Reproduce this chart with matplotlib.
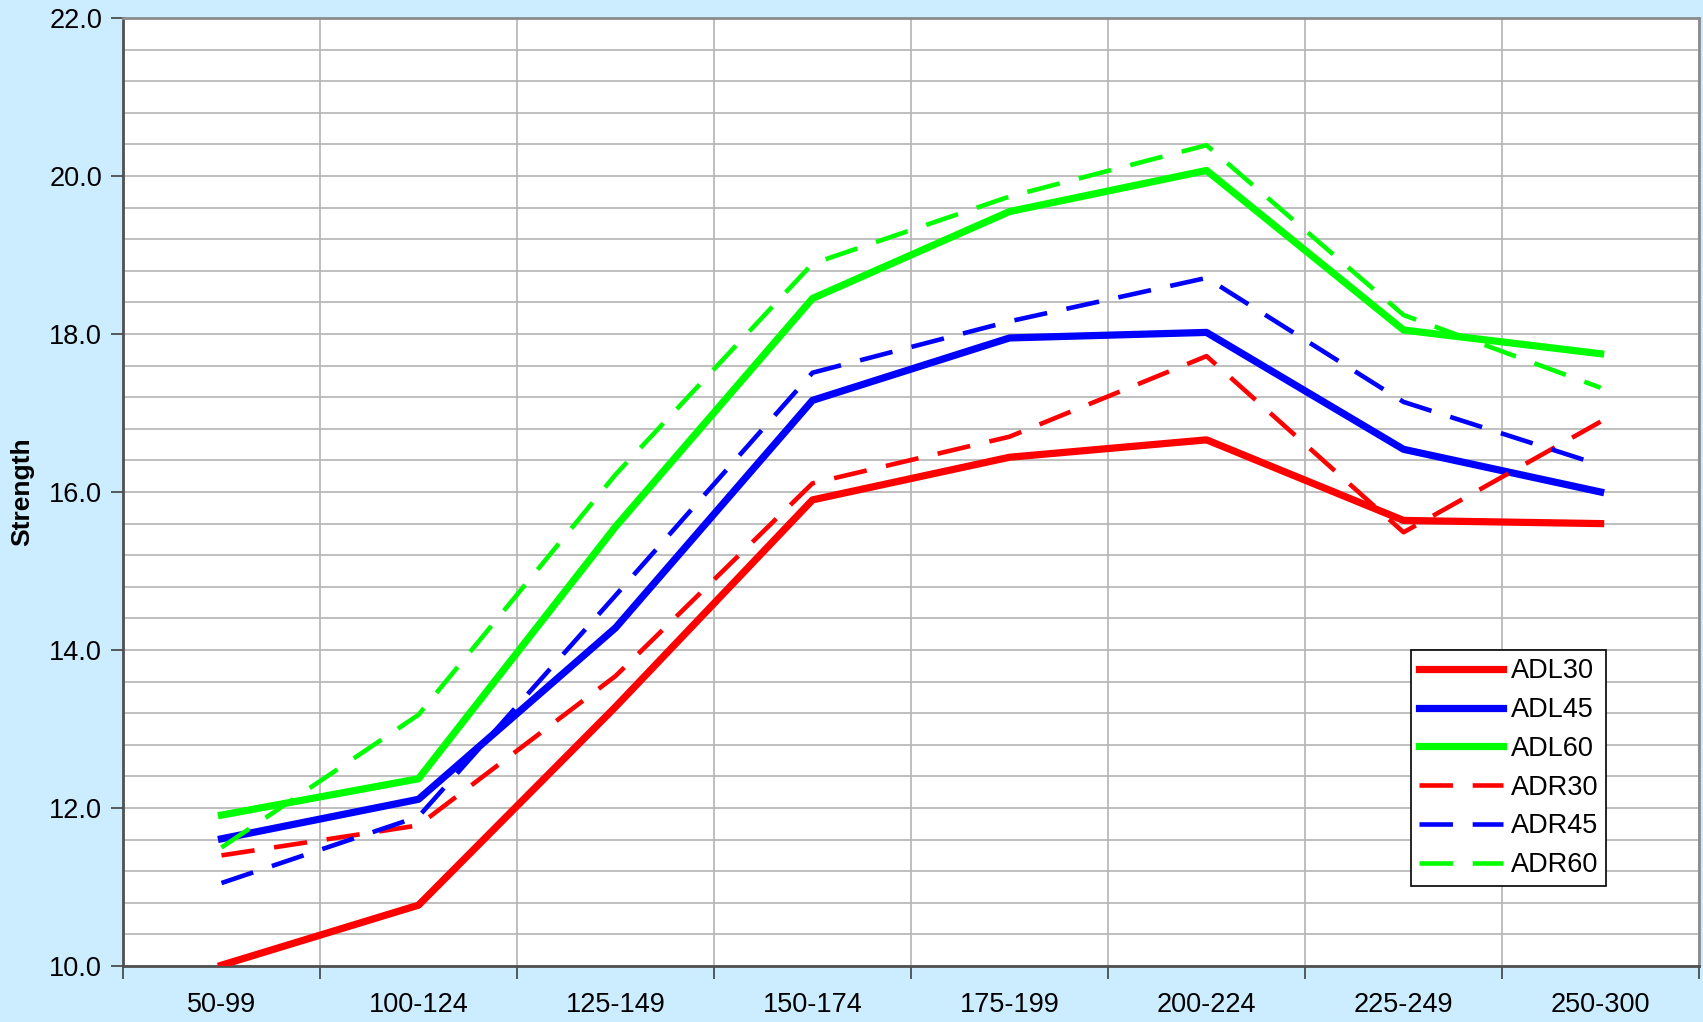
import matplotlib
matplotlib.use('Agg')
import matplotlib.pyplot as plt
from matplotlib.ticker import MultipleLocator, FormatStrFormatter, FixedLocator

# Data
categories = ['50-99', '100-124', '125-149', '150-174', '175-199', '200-224', '225-249', '250-300']
adl30 = [10.01, 10.77, 13.28, 15.90, 16.44, 16.66, 15.64, 15.60]
adl45 = [11.61, 12.11, 14.28, 17.16, 17.95, 18.02, 16.54, 16.00]
adl60 = [11.91, 12.37, 15.56, 18.45, 19.55, 20.07, 18.05, 17.75]
adr30 = [11.40, 11.78, 13.67, 16.11, 16.70, 17.72, 15.49, 16.89]
adr45 = [11.05, 11.89, 14.69, 17.51, 18.16, 18.71, 17.14, 16.34]
adr60 = [11.50, 13.18, 16.22, 18.89, 19.74, 20.39, 18.24, 17.32]

plt.rcParams['font.family'] = ['Liberation Sans', 'DejaVu Sans']

bg = '#CCECFF'
fig = plt.figure(figsize=(17.03, 10.22), dpi=100, facecolor=bg)
ax = fig.add_axes([0.0722, 0.0548, 0.9255, 0.9276])
ax.set_facecolor('white')

x = list(range(len(categories)))
solid_lw = 5.2
dash_lw = 3.3
dash = (0, (7.3, 4.3))

ax.plot(x, adl30, color='#FF0000', lw=solid_lw, label='ADL30', zorder=3)
ax.plot(x, adl45, color='#0000FF', lw=solid_lw, label='ADL45', zorder=3)
ax.plot(x, adl60, color='#00FF00', lw=solid_lw, label='ADL60', zorder=3)
ax.plot(x, adr30, color='#FF0000', lw=dash_lw, ls=dash, label='ADR30', zorder=3)
ax.plot(x, adr45, color='#0000FF', lw=dash_lw, ls=dash, label='ADR45', zorder=3)
ax.plot(x, adr60, color='#00FF00', lw=dash_lw, ls=dash, label='ADR60', zorder=3)

ax.set_xlim(-0.5, len(categories) - 0.5)
ax.set_ylim(10, 22)

# y axis: major every 2, minor gridlines every 0.4
ax.yaxis.set_major_locator(MultipleLocator(2))
ax.yaxis.set_minor_locator(MultipleLocator(0.4))
ax.yaxis.set_major_formatter(FormatStrFormatter('%.1f'))

# x axis: labels at centres, ticks/gridlines at category boundaries
ax.set_xticks(x)
ax.set_xticklabels(categories)
ax.xaxis.set_minor_locator(FixedLocator([i - 0.5 for i in range(len(categories) + 1)]))

ax.tick_params(axis='both', which='major', labelsize=19.5, colors='black')
ax.tick_params(axis='x', which='major', length=0, pad=19)
ax.tick_params(axis='x', which='minor', length=9, width=1.2, color='#404040')
ax.tick_params(axis='y', which='major', length=9, width=1.2, color='#404040', pad=6)
ax.tick_params(axis='y', which='minor', length=0)

ax.grid(True, axis='y', which='both', color='#B4B4B4', lw=1.2, zorder=0)
ax.grid(True, axis='x', which='minor', color='#B4B4B4', lw=1.2, zorder=0)
ax.grid(False, axis='x', which='major')

for side in ['left', 'bottom']:
    ax.spines[side].set_color('#505050')
    ax.spines[side].set_linewidth(2)
for side in ['top', 'right']:
    ax.spines[side].set_color('#8C8C8C')
    ax.spines[side].set_linewidth(2)

ax.set_ylabel('Strength', fontsize=19, fontweight='bold', labelpad=11)

leg = ax.legend(loc='upper left', bbox_to_anchor=(0.817, 0.333), fontsize=19.5,
                frameon=True, fancybox=False, framealpha=1, edgecolor='black',
                handlelength=3.1, handletextpad=0.3, labelspacing=0.47,
                borderpad=0.3, borderaxespad=0)
leg.get_frame().set_linewidth(1.2)

fig.savefig('out.png', dpi=100, facecolor=bg)
